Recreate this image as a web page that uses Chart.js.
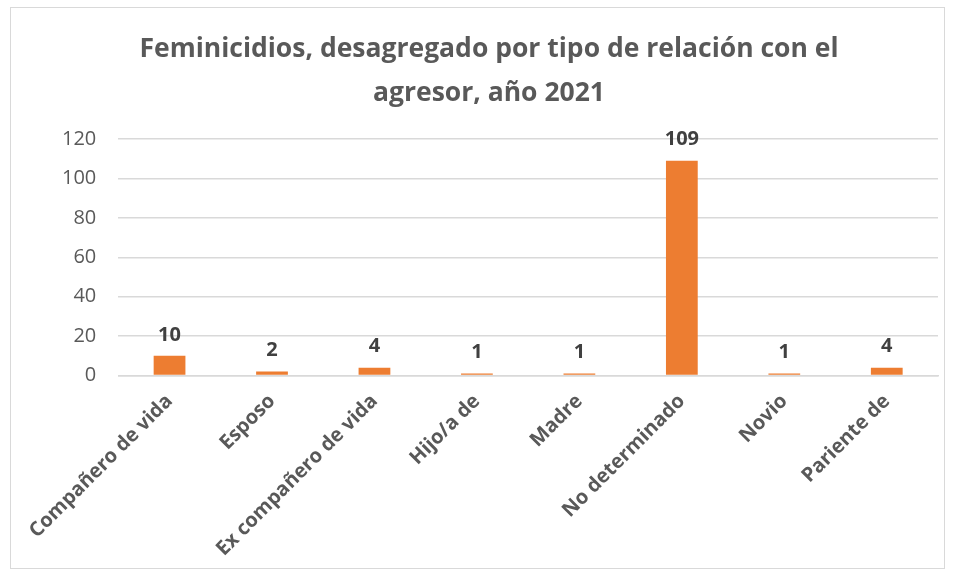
<!DOCTYPE html>
<html>
<head>
<meta charset="utf-8">
<script src="https://cdn.jsdelivr.net/npm/chart.js@4/dist/chart.umd.min.js"></script>
<style>
  html, body { margin: 0; padding: 0; background: #fff; }
  #box { position: absolute; left: 10px; top: 7px; width: 935px; height: 562px; border: 1px solid #d9d9d9; box-sizing: border-box; }
  canvas { display: block; }
</style>
</head>
<body>
<div id="box"><canvas id="chart" width="933" height="560"></canvas></div>
<script>
const categories = ["Compañero de vida", "Esposo", "Ex compañero de vida", "Hijo/a de", "Madre", "No determinado", "Novio", "Pariente de"];
const values = [10, 2, 4, 1, 1, 109, 1, 4];
const yTicks = [0, 20, 40, 60, 80, 100, 120];
const titleLines = ["Feminicidios, desagregado por tipo de relación con el", "agresor, año 2021"];

const FONT = "'Open Sans', 'Liberation Sans', sans-serif";

// draws the value above each bar
const valueLabels = {
  id: "valueLabels",
  afterDatasetsDraw(chart) {
    const ctx = chart.ctx;
    const meta = chart.getDatasetMeta(0);
    ctx.save();
    ctx.font = "bold 20px " + FONT;
    ctx.fillStyle = "#404040";
    ctx.textAlign = "center";
    ctx.textBaseline = "bottom";
    meta.data.forEach((bar, i) => {
      ctx.fillText(String(values[i]), bar.x, bar.y - 11);
    });
    ctx.restore();
  }
};

new Chart(document.getElementById("chart"), {
  type: "bar",
  data: {
    labels: categories,
    datasets: [{ data: values, backgroundColor: "#ed7d31", barPercentage: 0.31, categoryPercentage: 1 }]
  },
  options: {
    responsive: false, animation: false,
    layout: { padding: { left: 29, right: 6, top: 0, bottom: 1 } },
    plugins: {
      legend: { display: false },
      tooltip: { enabled: false },
      title: {
        display: true, text: titleLines, color: "#595959",
        font: { family: FONT, size: 26.5, weight: "bold", lineHeight: 1.66 },
        padding: { top: 19, bottom: 24 }
      }
    },
    scales: {
      y: {
        min: 0, max: 120,
        afterBuildTicks: (axis) => { axis.ticks = yTicks.map(v => ({ value: v })); },
        ticks: { color: "#595959", font: { family: FONT, size: 20 }, padding: 22 },
        grid: { color: "#d9d9d9", lineWidth: 1.5, drawTicks: false },
        border: { display: false }
      },
      x: {
        ticks: { color: "#595959", font: { family: FONT, size: 20, weight: "bold" }, maxRotation: 45, minRotation: 45, padding: 6 },
        grid: { display: false },
        border: { color: "#d9d9d9", width: 1.5 }
      }
    }
  },
  plugins: [valueLabels]
});
</script>
</body>
</html>
